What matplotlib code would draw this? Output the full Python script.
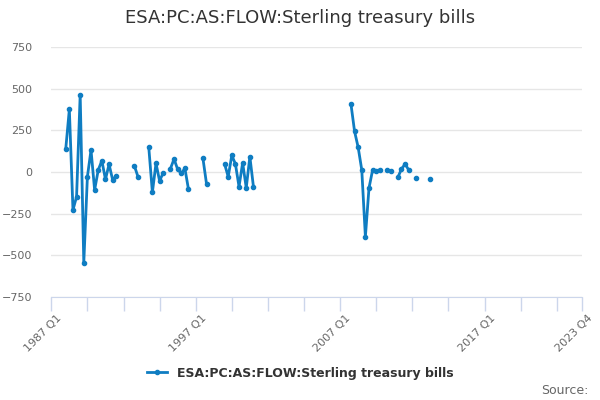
import matplotlib.pyplot as plt
import numpy as np

# observed quarters and values (gaps are quarters with no data)
quarters = ["1988 Q1", "1988 Q2", "1988 Q3", "1988 Q4", "1989 Q1", "1989 Q2", "1989 Q3", "1989 Q4",
            "1990 Q1", "1990 Q2", "1990 Q3", "1990 Q4", "1991 Q1", "1991 Q2", "1991 Q3",
            "1992 Q4", "1993 Q1",
            "1993 Q4", "1994 Q1", "1994 Q2", "1994 Q3", "1994 Q4",
            "1995 Q2", "1995 Q3", "1995 Q4", "1996 Q1", "1996 Q2", "1996 Q3",
            "1997 Q3", "1997 Q4",
            "1999 Q1", "1999 Q2", "1999 Q3", "1999 Q4", "2000 Q1", "2000 Q2", "2000 Q3", "2000 Q4", "2001 Q1",
            "2007 Q4", "2008 Q1", "2008 Q2", "2008 Q3", "2008 Q4", "2009 Q1", "2009 Q2", "2009 Q3", "2009 Q4",
            "2010 Q2", "2010 Q3",
            "2011 Q1", "2011 Q2", "2011 Q3", "2011 Q4",
            "2012 Q2",
            "2013 Q2"]
values = [138, 376, -228, -148, 464, -544, -28, 132, -108, 12, 68, -44, 46, -48, -22,
          38, -28,
          148, -122, 52, -54, -4,
          20, 78, 16, -8, 22, -104,
          82, -72,
          48, -28, 100, 48, -88, 55, -95, 92, -90,
          408, 244, 148, 12, -388, -96, 12, 8, 12,
          12, 6,
          -32, 18, 48, 12,
          -36,
          -40]

first_year = 1987
last_label = "2023 Q4"
tick_labels = ["1987 Q1", "1997 Q1", "2007 Q1", "2017 Q1", "2023 Q4"]
series_name = "ESA:PC:AS:FLOW:Sterling treasury bills"


def q_index(label):
    y, q = label.split(" Q")
    return (int(y) - first_year) * 4 + int(q) - 1


n = q_index(last_label) + 1
series = np.full(n, np.nan)
for lab, v in zip(quarters, values):
    series[q_index(lab)] = v

color = "#0f7dc2"
fig = plt.figure(figsize=(6, 4), dpi=100)
ax = fig.add_axes([51.3/600, 1 - 297/400, 530.7/600, 250/400])

ax.plot(np.arange(n), series, color=color, linewidth=2, marker="o", markersize=3,
        label=series_name)

ax.set_xlim(0, n - 1)
ax.set_ylim(-750, 750)
ax.set_yticks(np.arange(-750, 751, 250))
ax.grid(True, axis="y", color="#e6e6e6", linewidth=1)
ax.set_axisbelow(True)

minor = list(range(0, n, 10)) + [n - 1]
ax.set_xticks(minor)
ax.set_xticklabels(["" for _ in minor])
major_pos = [q_index(t) for t in tick_labels]
for p, t in zip(major_pos, tick_labels):
    ax.text(p + 1.5, -750 - 95, t, rotation=45, ha="right", va="top",
            fontsize=8, color="#666666", rotation_mode="anchor")
ax.tick_params(axis="x", length=10, color="#ccd6eb", width=1)
ax.tick_params(axis="y", length=0, labelsize=8, labelcolor="#666666", pad=14)

for s in ["top", "right", "left"]:
    ax.spines[s].set_visible(False)
ax.spines["bottom"].set_color("#ccd6eb")

fig.text(0.5, 1 - 18/400, "ESA:PC:AS:FLOW:Sterling treasury bills", ha="center", va="center",
         fontsize=13, color="#333333")

leg = fig.legend(loc="center", bbox_to_anchor=(0.5, 1 - 373/400), frameon=False,
                 handlelength=1.6, prop={"size": 9, "weight": "bold"})
for txt in leg.get_texts():
    txt.set_color("#333333")

fig.text(588/600, 1 - 390/400, "Source:", ha="right", va="center", fontsize=9, color="#666666")

plt.savefig("out.png", dpi=100)
